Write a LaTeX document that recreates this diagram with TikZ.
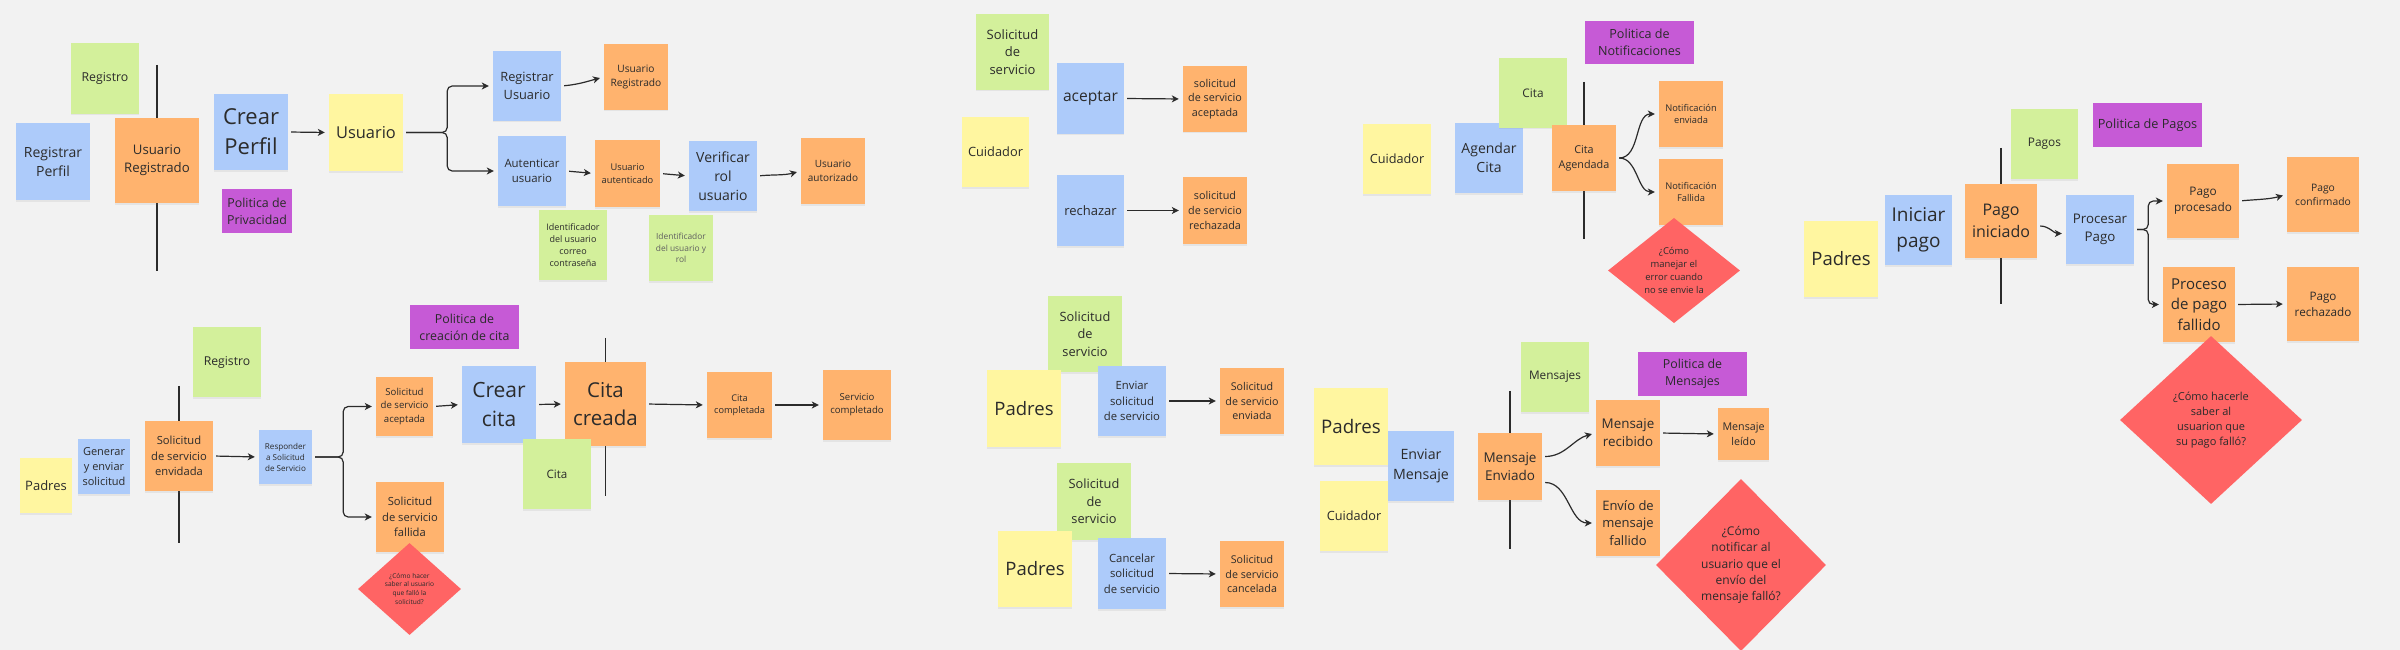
\documentclass[tikz,border=0pt]{standalone}
\usepackage{fontspec}
\setmainfont{Open Sans}
\usepackage{tikz}
\usetikzlibrary{arrows.meta, shapes.geometric, shadows, backgrounds}
\definecolor{canvas}{HTML}{F2F2F2}
\definecolor{noteblue}{HTML}{ADCBFA}
\definecolor{noteyellow}{HTML}{FFF6A0}
\definecolor{noteorange}{HTML}{FFB36E}
\definecolor{notegreen}{HTML}{D3F09B}
\definecolor{notepurple}{HTML}{C65AD6}
\definecolor{notered}{HTML}{FF6464}
\definecolor{ink}{HTML}{2B2B2B}
\newcommand{\fs}[1]{\fontsize{#1}{1.36\dimexpr#1pt\relax}\selectfont}
\tikzset{
    sz/.style 2 args={minimum width=#1, minimum height=#2},
    note/.style={rectangle, inner sep=0pt, align=center, text=ink,
        drop shadow={shadow xshift=0pt, shadow yshift=-1.5pt, opacity=0.12}},
    note_blue/.style={note, fill=noteblue},
    note_yellow/.style={note, fill=noteyellow},
    note_orange/.style={note, fill=noteorange},
    note_green/.style={note, fill=notegreen},
    note_purple/.style={rectangle, inner sep=0pt, align=center, text=ink, fill=notepurple},
    question/.style={diamond, inner sep=0pt, align=center, text=ink, fill=notered},
    flow/.style={-{Stealth[length=7pt, width=7pt, inset=2pt]}, line width=1.2pt, draw=ink,
        shorten >=4pt, shorten <=3pt},
    branch/.style={flow, rounded corners=5pt},
    pivot/.style={line width=1.2pt, draw=ink}
}

\begin{document}
\begin{tikzpicture}[x=1pt, y=-1pt]
    \useasboundingbox (0,0) rectangle (2400,650);
    % Perfil y usuario
    \node[note_blue, sz={74}{77}, font=\fs{14}] (reg_perfil) at (53,161.5) {Registrar\\Perfil};
    \node[note_green, sz={68}{71}, font=\fs{12.3}] (registro_a) at (105,78.5) {Registro};
    \node[note_orange, sz={84}{85}, font=\fs{13.2}] (ur_a) at (157,160.5) {Usuario\\Registrado};
    \node[note_blue, sz={74}{76}, font=\fs{22}] (crear_perfil) at (251,132) {Crear\\Perfil};
    \node[note_purple, sz={70}{44}, font=\fs{12.4}] (pol_priv) at (257,211) {Politica de\\Privacidad};
    \node[note_yellow, sz={74}{77}, font=\fs{16.4}] (usuario) at (366,132.5) {Usuario};
    \node[note_blue, sz={68}{70}, font=\fs{12.8}] (reg_usu) at (527,86) {Registrar\\Usuario};
    \node[note_blue, sz={68}{70}, font=\fs{11.4}] (aut_usu) at (532,171) {Autenticar\\usuario};
    \node[note_orange, sz={64}{66}, font=\fs{10.2}] (ur_b) at (636,77) {Usuario\\Registrado};
    \node[note_orange, sz={65}{67}, font=\fs{9.3}] (u_aut) at (627.5,173.5) {Usuario\\autenticado};
    \node[note_green, sz={68}{70}, font=\fs{9}] (id_correo) at (573,245) {Identificador\\del usuario\\correo\\contraseña};
    \node[note_blue, sz={68}{70}, font=\fs{14}] (verif_rol) at (723,176) {Verificar\\rol\\usuario};
    \node[note_green, sz={64}{66}, font=\fs{8.4}, text=ink!75] (id_rol) at (681,248) {Identificador\\del usuario y\\rol};
    \node[note_orange, sz={64}{66}, font=\fs{10}] (u_autoriz) at (833,171) {Usuario\\autorizado};
    \draw[flow] (crear_perfil.east) -- (usuario.west);
    \draw[branch] (usuario.east) -- ++(44,0) |- (reg_usu.west);
    \draw[branch] (usuario.east) -- ++(44,0) |- (aut_usu.west);
    \draw[flow] (reg_usu.east) to[out=5, in=195] (ur_b.west);
    \draw[flow] (aut_usu.east) -- (u_aut.west);
    \draw[flow] (u_aut.east) -- (verif_rol.west);
    \draw[flow] (verif_rol.east) to[out=5, in=195] (u_autoriz.west);

    % Cuidador responde solicitud
    \node[note_green, sz={73}{76}, font=\fs{13}] (sol_srv_a) at (1012.5,52) {Solicitud\\de\\servicio};
    \node[note_yellow, sz={67}{70}, font=\fs{12.8}] (cuid_a) at (995.5,152) {Cuidador};
    \node[note_blue, sz={67}{71}, font=\fs{15.6}] (aceptar) at (1090.5,98.5) {aceptar};
    \node[note_orange, sz={64}{66}, font=\fs{10.8}] (sol_acep) at (1215,99) {solicitud\\de servicio\\aceptada};
    \node[note_blue, sz={67}{71}, font=\fs{13}] (rechazar) at (1090.5,210.5) {rechazar};
    \node[note_orange, sz={64}{67}, font=\fs{10.8}] (sol_rech) at (1215,210.5) {solicitud\\de servicio\\rechazada};
    \draw[flow] (aceptar.east) -- (sol_acep.west);
    \draw[flow] (rechazar.east) -- (sol_rech.west);

    % Solicitud y cita
    \node[note_yellow, sz={52}{55}, font=\fs{13}] (padres_a) at (46,485.5) {Padres};
    \node[note_blue, sz={52}{55}, font=\fs{11}] (generar) at (104,466.5) {Generar\\y enviar\\solicitud};
    \node[note_green, sz={68}{70}, font=\fs{12.2}] (registro_b) at (227,362) {Registro};
    \node[note_orange, sz={68}{70}, font=\fs{11.2}] (sol_env) at (179,456) {Solicitud\\de servicio\\envidada};
    \node[note_blue, sz={53}{54}, font=\fs{8.1}] (responder) at (285.5,457) {Responder\\a Solicitud\\de Servicio};
    \node[note_purple, sz={109}{44}, font=\fs{12.4}] (pol_cita) at (464.5,327) {Politica de\\creación de cita};
    \node[note_orange, sz={57}{59}, font=\fs{9.6}] (sol_acep_b) at (404.5,406.5) {Solicitud\\de servicio\\aceptada};
    \node[note_orange, sz={68}{70}, font=\fs{11.2}] (sol_fall) at (410,517) {Solicitud\\de servicio\\fallida};
    \node[question, sz={103}{92}, font=\fs{6.6}] (preg_sol) at (409.5,589) {¿Cómo hacer\\saber al usuario\\que falló la\\solicitud?};
    \node[note_blue, sz={74}{77}, font=\fs{21}] (crear_cita) at (499,404.5) {Crear\\cita};
    \node[note_orange, sz={81}{84}, font=\fs{20.5}] (cita_creada) at (605.5,404) {Cita\\creada};
    \node[note_green, sz={68}{70}, font=\fs{11.6}] (cita_b) at (557,474) {Cita};
    \node[note_orange, sz={65}{66}, font=\fs{9.2}] (cita_comp) at (739.5,405) {Cita\\completada};
    \node[note_orange, sz={68}{70}, font=\fs{9.6}] (serv_comp) at (857,405) {Servicio\\completado};
    \draw[flow] (sol_env.east) -- (responder.west);
    \draw[branch] (responder.east) -- ++(31,0) |- (sol_acep_b.west);
    \draw[branch] (responder.east) -- ++(31,0) |- (sol_fall.west);
    \draw[flow] (sol_acep_b.east) -- (crear_cita.west);
    \draw[flow] (crear_cita.east) -- (cita_creada.west);
    \draw[flow] (cita_creada.east) -- (cita_comp.west);
    \draw[flow] (cita_comp.east) -- (serv_comp.west);

    % Padres envian o cancelan
    \node[note_green, sz={74}{76}, font=\fs{12.8}] (sol_srv_b) at (1085,334) {Solicitud\\de\\servicio};
    \node[note_yellow, sz={74}{77}, font=\fs{18.5}] (padres_b) at (1024,408.5) {Padres};
    \node[note_blue, sz={68}{70}, font=\fs{11.3}] (enviar_sol) at (1132,401) {Enviar\\solicitud\\de servicio};
    \node[note_orange, sz={64}{66}, font=\fs{10.7}] (sol_enviada) at (1252,401) {Solicitud\\de servicio\\enviada};
    \node[note_green, sz={74}{77}, font=\fs{12.8}] (sol_srv_c) at (1094,501.5) {Solicitud\\de\\servicio};
    \node[note_yellow, sz={74}{76}, font=\fs{18.5}] (padres_c) at (1035,569) {Padres};
    \node[note_blue, sz={68}{71}, font=\fs{11.3}] (cancelar) at (1132,573.5) {Cancelar\\solicitud\\de servicio};
    \node[note_orange, sz={64}{66}, font=\fs{10.7}] (sol_canc) at (1252,574) {Solicitud\\de servicio\\cancelada};
    \draw[flow] (enviar_sol.east) -- (sol_enviada.west);
    \draw[flow] (cancelar.east) -- (sol_canc.west);

    % Agendar cita
    \node[note_yellow, sz={68}{70}, font=\fs{12.7}] (cuid_b) at (1397,159) {Cuidador};
    \node[note_blue, sz={68}{70}, font=\fs{14}] (agendar) at (1489,158) {Agendar\\Cita};
    \node[note_green, sz={68}{70}, font=\fs{11.8}] (cita_c) at (1533,93) {Cita};
    \node[note_orange, sz={64}{66}, font=\fs{10.8}] (cita_ag) at (1584,158) {Cita\\Agendada};
    \node[note_purple, sz={109}{43}, font=\fs{12.6}] (pol_notif) at (1639.5,42.5) {Politica de\\Notificaciones};
    \node[note_orange, sz={64}{66}, font=\fs{9.3}] (notif_env) at (1691,114) {Notificación\\enviada};
    \node[note_orange, sz={64}{66}, font=\fs{9.3}] (notif_fall) at (1691,192) {Notificación\\Fallida};
    \node[question, sz={132}{105}, font=\fs{9.4}] (preg_notif) at (1674,270.5) {¿Cómo\\manejar el\\error cuando\\no se envie la};
    \draw[flow] (cita_ag.east) to[out=0, in=180] (notif_env.west);
    \draw[flow] (cita_ag.east) to[out=0, in=180] (notif_fall.west);

    % Mensajes
    \node[note_yellow, sz={74}{77}, font=\fs{18.7}] (padres_d) at (1351,426.5) {Padres};
    \node[note_yellow, sz={68}{70}, font=\fs{12.7}] (cuid_c) at (1354,516) {Cuidador};
    \node[note_blue, sz={66}{70}, font=\fs{14.2}] (enviar_msg) at (1421,466) {Enviar\\Mensaje};
    \node[note_green, sz={68}{70}, font=\fs{11.8}] (mensajes) at (1555,377) {Mensajes};
    \node[note_orange, sz={64}{67}, font=\fs{13.5}] (msg_env) at (1510,466.5) {Mensaje\\Enviado};
    \node[note_purple, sz={109}{44}, font=\fs{12.4}] (pol_msg) at (1692.5,374) {Politica de\\Mensajes};
    \node[note_orange, sz={64}{66}, font=\fs{13.4}] (msg_rec) at (1628,433) {Mensaje\\recibido};
    \node[note_orange, sz={51}{52}, font=\fs{10.7}] (msg_leido) at (1743.5,434) {Mensaje\\leído};
    \node[note_orange, sz={64}{66}, font=\fs{13}] (msg_fall) at (1628,523) {Envío de\\mensaje\\fallido};
    \node[question, sz={170}{172}, font=\fs{12}] (preg_msg) at (1741,565) {¿Cómo\\notificar al\\usuario que el\\envío del\\mensaje falló?};
    \draw[flow] ([yshift=10pt]msg_env.east) to[out=0, in=195] (msg_rec.west);
    \draw[flow] ([yshift=-16pt]msg_env.east) to[out=0, in=180] (msg_fall.west);
    \draw[flow] (msg_rec.east) -- (msg_leido.west);

    % Pagos
    \node[note_yellow, sz={74}{76}, font=\fs{18.5}] (padres_e) at (1841,259) {Padres};
    \node[note_blue, sz={67}{70}, font=\fs{19}] (iniciar) at (1918.5,230) {Iniciar\\pago};
    \node[note_green, sz={67}{70}, font=\fs{11.9}] (pagos) at (2044.5,144) {Pagos};
    \node[note_purple, sz={109}{44}, font=\fs{12.7}] (pol_pagos) at (2147.5,125) {Politica de Pagos};
    \node[note_orange, sz={72}{74}, font=\fs{16}] (pago_ini) at (2001,221) {Pago\\iniciado};
    \node[note_blue, sz={68}{69}, font=\fs{13.3}] (proc_pago) at (2100,229.5) {Procesar\\Pago};
    \node[note_orange, sz={72}{74}, font=\fs{11.8}] (pago_proc) at (2203,201) {Pago\\procesado};
    \node[note_orange, sz={72}{75}, font=\fs{15}] (pago_fall) at (2199,304.5) {Proceso\\de pago\\fallido};
    \node[note_orange, sz={72}{75}, font=\fs{10.3}] (pago_conf) at (2323,194.5) {Pago\\confirmado};
    \node[note_orange, sz={72}{74}, font=\fs{11.7}] (pago_rech) at (2323,304) {Pago\\rechazado};
    \node[question, sz={182}{168}, font=\fs{11}] (preg_pago) at (2211,420) {¿Cómo hacerle\\saber al\\usuarion que\\su pago falló?};
    \draw[flow] ([yshift=-5pt]pago_ini.east) to[out=0, in=180] ([yshift=-4pt]proc_pago.west);
    \draw[branch] (proc_pago.east) -- ++(14,0) |- (pago_proc.west);
    \draw[branch] (proc_pago.east) -- ++(14,0) |- (pago_fall.west);
    \draw[flow] (pago_proc.east) to[out=5, in=195] (pago_conf.west);
    \draw[flow] (pago_fall.east) -- (pago_rech.west);

    % Fondo y lineas pivote
    \begin{scope}[on background layer]
        \fill[canvas] (0,0) rectangle (2400,650);
        \draw[pivot] ([yshift=53pt]ur_a.north) -- ([yshift=-68pt]ur_a.south);
        \draw[pivot] ([yshift=35pt]sol_env.north) -- ([yshift=-52pt]sol_env.south);
        \draw[pivot] ([yshift=24pt]cita_creada.north) -- ([yshift=-50pt]cita_creada.south);
        \draw[pivot] ([yshift=43pt]cita_ag.north) -- ([yshift=-48pt]cita_ag.south);
        \draw[pivot] ([yshift=42pt]msg_env.north) -- ([yshift=-49pt]msg_env.south);
        \draw[pivot] ([yshift=36pt]pago_ini.north) -- ([yshift=-46pt]pago_ini.south);
    \end{scope}
\end{tikzpicture}
\end{document}
